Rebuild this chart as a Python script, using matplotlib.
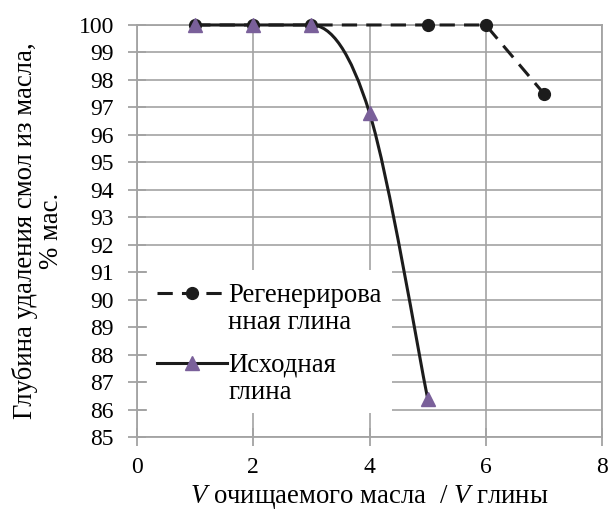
import matplotlib
matplotlib.use("Agg")
import matplotlib.pyplot as plt
import numpy as np
from matplotlib.path import Path
from matplotlib.patches import PathPatch, Rectangle
from matplotlib.lines import Line2D

FAM = ['Liberation Serif', 'DejaVu Serif']
plt.rcParams['font.family'] = FAM
plt.rcParams['mathtext.fontset'] = 'custom'
plt.rcParams['mathtext.rm'] = 'Liberation Serif'
plt.rcParams['mathtext.it'] = 'Liberation Serif:italic'

# Data
x_regen = [1, 2, 3, 5, 6, 7]
y_regen = [100, 100, 100, 100, 100, 97.5]
x_init = [1, 2, 3, 4, 5]
y_init = [100, 100, 100, 96.8, 86.4]
label_regen = "Регенерирова\nнная глина"
label_init = "Исходная\nглина"
xticks = [0, 2, 4, 6, 8]
yticks = list(range(85, 101))

grid_c = '#a3a3a3'
line_c = '#1c1c1c'
purple = '#7a609a'
fs_tick = 17
fs = 19.3
lw = 2.2
dash = (5, 3)

fig = plt.figure(figsize=(6.09, 5.15), dpi=100)
ax = fig.add_axes([0.225, 0.1515, 0.7635, 0.8])
ax.set_xlim(0, 8)
ax.set_ylim(85, 100)
ax.set_xticks(xticks)
ax.set_yticks(yticks)
ax.set_xticklabels([str(v) for v in xticks], family=FAM, fontsize=fs_tick)
ax.set_yticklabels([str(v) for v in yticks], family=FAM, fontsize=fs_tick)
ax.grid(True, color=grid_c, linewidth=1.2, zorder=0)
ax.set_axisbelow(True)
for s in ax.spines.values():
    s.set_color(grid_c)
    s.set_linewidth(1.3)
ax.tick_params(direction='inout', length=13, width=1.3, color=grid_c)
ax.tick_params(axis='y', pad=10)
ax.tick_params(axis='x', pad=8)


def smooth_path(xs, ys, t=1/6):
    pts = [np.array(p, dtype=float) for p in zip(xs, ys)]
    n = len(pts)
    tang = []
    for i in range(n):
        p0 = pts[i - 1] if i > 0 else pts[i]
        p2 = pts[i + 1] if i + 1 < n else pts[i]
        d = (p2 - p0) * t
        flat_left = i > 0 and pts[i - 1][1] == pts[i][1]
        flat_right = i + 1 < n and pts[i + 1][1] == pts[i][1]
        if flat_left or flat_right:
            d = np.array([d[0], 0.0])
        tang.append(d)
    verts = [tuple(pts[0])]
    codes = [Path.MOVETO]
    for i in range(n - 1):
        c1 = pts[i] + tang[i]
        c2 = pts[i + 1] - tang[i + 1]
        verts += [tuple(c1), tuple(c2), tuple(pts[i + 1])]
        codes += [Path.CURVE4] * 3
    return Path(verts, codes)

# Regenerated clay (dashed)
ax.plot(x_regen, y_regen, color=line_c, linewidth=lw, dashes=dash,
        marker='o', markersize=8.5, markerfacecolor=line_c,
        markeredgecolor=line_c, zorder=3, clip_on=False)

# Initial clay (smoothed solid)
patch = PathPatch(smooth_path(x_init, y_init), facecolor='none',
                  edgecolor=line_c, linewidth=lw, zorder=4, clip_on=False)
ax.add_patch(patch)
ax.plot(x_init, y_init, linestyle='none', marker='^', markersize=10.5,
        markerfacecolor=purple, markeredgecolor=purple, zorder=5, clip_on=False)

# Legend (manual, Excel-like: handle aligned with first text line)
T = ax.transAxes
ax.add_patch(Rectangle((0.0215, 0.058), 0.5265, 0.347, transform=T,
                       facecolor='white', edgecolor='none', zorder=2))
ax.add_line(Line2D([0.043, 0.194], [0.3495, 0.3495], transform=T,
                   color=line_c, linewidth=lw, dashes=dash, zorder=6))
ax.add_line(Line2D([0.118], [0.3495], transform=T, marker='o',
                   markersize=8.5, color=line_c, linestyle='none', zorder=7))
ax.text(0.196, 0.311, label_regen, transform=T, fontsize=fs, va='center',
        ha='left', zorder=7, linespacing=1.1, family=FAM)
ax.add_line(Line2D([0.043, 0.194], [0.18, 0.18], transform=T,
                   color=line_c, linewidth=lw, zorder=6))
ax.add_line(Line2D([0.118], [0.18], transform=T, marker='^',
                   markersize=10.5, color=purple, linestyle='none', zorder=7))
ax.text(0.196, 0.141, label_init, transform=T, fontsize=fs, va='center',
        ha='left', zorder=7, linespacing=1.1, family=FAM)

fig.text(0.062, 0.5515, "Глубина удаления смол из масла,\n% мас.", fontsize=fs,
         rotation=90, ha='center', va='center', multialignment='center',
         linespacing=1.05, family=FAM)
fig.text(0.607, 0.0233, "$V$ очищаемого масла  / $V$ глины", fontsize=fs,
         ha='center', va='baseline', family=FAM)

fig.savefig("out.png", dpi=100)
